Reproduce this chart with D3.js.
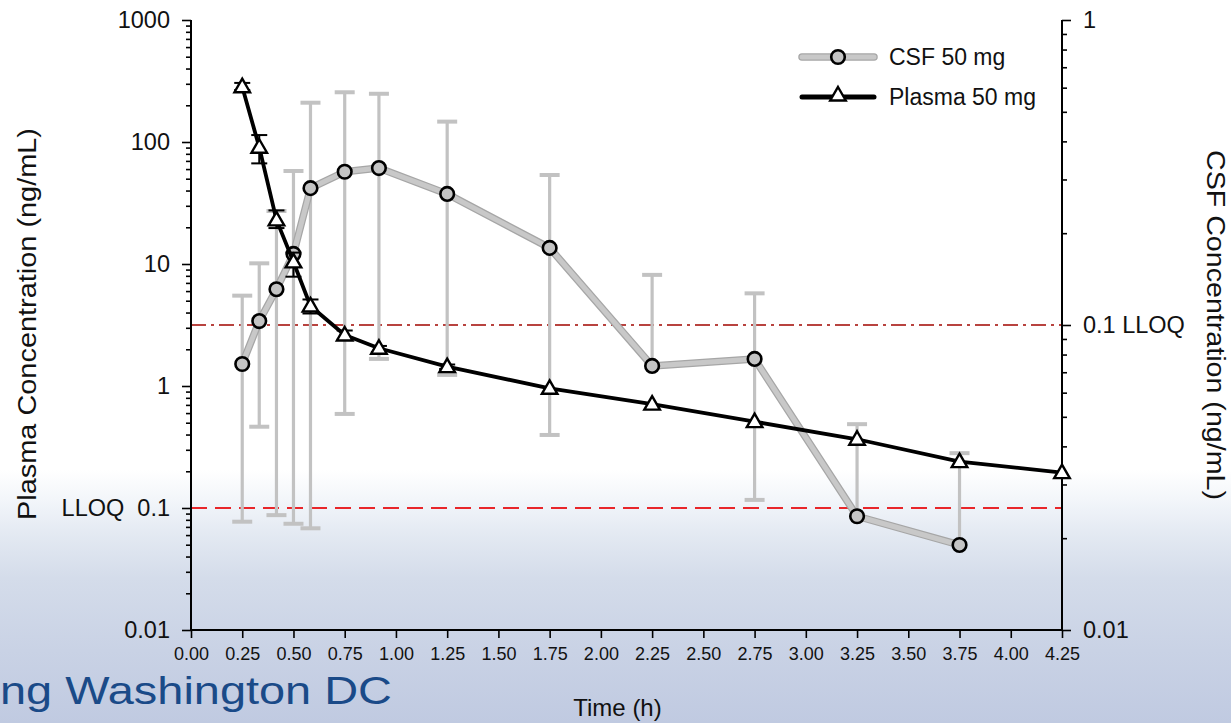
<!DOCTYPE html>
<html><head><meta charset="utf-8">
<script src="https://cdn.jsdelivr.net/npm/d3@7"></script>
<style>html,body{margin:0;padding:0;overflow:hidden;}svg{display:block;font-family:"Liberation Sans",Arial,sans-serif;}</style>
</head><body>
<script>
// ---- data ----
const times = [0.25, 0.333, 0.417, 0.5, 0.583, 0.75, 0.917, 1.25, 1.75, 2.25, 2.75, 3.25, 3.75, 4.25];
const plasma = [284, 90.6, 23.0, 10.4, 4.53, 2.62, 2.04, 1.44, 0.957, 0.71, 0.51, 0.366, 0.24, 0.195];
const plasmaUpper = [305, 114, 27.5, 12.4, 5.12, 2.85, 2.13, 1.5, null, null, null, null, null, null];
const plasmaLower = [267, 66.8, 19.7, 7.87, 3.93, 2.4, 1.9, 1.38, null, null, null, null, null, null];
const csfTimes = [0.25, 0.333, 0.417, 0.5, 0.583, 0.75, 0.917, 1.25, 1.75, 2.25, 2.75, 3.25, 3.75];
const csf = [0.0745, 0.103, 0.131, 0.171, 0.281, 0.318, 0.327, 0.269, 0.179, 0.0734, 0.0774, 0.0236, 0.019];
const csfUpper = [0.1248, 0.1593, 0.2365, 0.3199, 0.5356, 0.5795, 0.573, 0.4643, 0.3103, 0.146, 0.127, 0.0473, 0.038];
const csfLower = [0.02265, 0.0464, 0.0238, 0.0223, 0.02155, 0.0511, 0.0774, 0.0686, 0.0436, null, 0.0267, null, null];
const xTicks = [0, 0.25, 0.5, 0.75, 1, 1.25, 1.5, 1.75, 2, 2.25, 2.5, 2.75, 3, 3.25, 3.5, 3.75, 4, 4.25];
const leftTicks = [0.01, 0.1, 1, 10, 100, 1000];
const leftLabels = ["0.01", "LLOQ  0.1", "1", "10", "100", "1000"];
const rightTicks = [0.01, 0.1, 1];
const rightLabels = ["0.01", "0.1 LLOQ", "1"];
const plasmaLLOQ = 0.1;
const csfLLOQ = 0.1;
const seriesNames = ["CSF 50 mg", "Plasma 50 mg"];

const W = 1231, H = 723;
const svg = d3.select("body").append("svg").attr("width", W).attr("height", H);
const defs = svg.append("defs");
const grad = defs.append("linearGradient").attr("id", "bg").attr("x1", 0).attr("y1", 0).attr("x2", 0).attr("y2", 1);
[[0, "#ffffff"], [0.65, "#ffffff"], [0.69, "#f3f6fa"], [0.74, "#e3e9f2"], [0.8, "#d4dcea"], [0.9, "#c9d2e5"], [1, "#c0cae1"]]
  .forEach(([o, c]) => grad.append("stop").attr("offset", o).attr("stop-color", c));
svg.append("rect").attr("width", W).attr("height", H).attr("fill", "url(#bg)");

const L = 191, R = 1062, T = 20, B = 630;
const x = d3.scaleLinear().domain([0, 4.25]).range([L, R]);
const yL = d3.scaleLog().domain([0.01, 1000]).range([B, T]);
const yR = d3.scaleLog().domain([0.01, 1]).range([B, T]);

// footer text
svg.append("text").attr("x", 0).attr("y", 704).attr("font-size", 38).attr("fill", "#1a4a88")
  .attr("textLength", 392).attr("lengthAdjust", "spacingAndGlyphs").text("ng Washington DC");

// LLOQ lines
svg.append("line").attr("x1", L).attr("x2", R).attr("y1", yR(csfLLOQ)).attr("y2", yR(csfLLOQ))
  .attr("stroke", "#b8433f").attr("stroke-width", 1.8).attr("stroke-dasharray", "15,5,3,5");
svg.append("line").attr("x1", L).attr("x2", R).attr("y1", yL(plasmaLLOQ)).attr("y2", yL(plasmaLLOQ))
  .attr("stroke", "#e8262a").attr("stroke-width", 2).attr("stroke-dasharray", "16,8");

// axes
const minorL = [];
for (let e = -2; e < 3; e++) for (let k = 2; k <= 9; k++) minorL.push(k * Math.pow(10, e));
const minorR = [];
for (let e = -2; e < 0; e++) for (let k = 2; k <= 9; k++) minorR.push(k * Math.pow(10, e));

const gL = svg.append("g").attr("transform", `translate(${L},0)`)
  .call(d3.axisLeft(yL).tickValues(leftTicks).tickFormat((d, i) => leftLabels[i]).tickSize(9).tickPadding(12));
const gLm = svg.append("g").attr("transform", `translate(${L},0)`)
  .call(d3.axisLeft(yL).tickValues(minorL).tickFormat("").tickSize(5));
const gR = svg.append("g").attr("transform", `translate(${R},0)`)
  .call(d3.axisRight(yR).tickValues(rightTicks).tickFormat((d, i) => rightLabels[i]).tickSize(9).tickPadding(12));
const gRm = svg.append("g").attr("transform", `translate(${R},0)`)
  .call(d3.axisRight(yR).tickValues(minorR).tickFormat("").tickSize(5));
const gB = svg.append("g").attr("transform", `translate(0,${B})`)
  .call(d3.axisBottom(x).tickValues(xTicks).tickFormat(d3.format(".2f")).tickSize(8).tickPadding(9));
[gLm, gRm].forEach(g => g.select(".domain").remove());
[gL, gR, gB, gLm, gRm].forEach(g => {
  g.selectAll(".domain").attr("stroke", "#000").attr("stroke-width", 2);
  g.selectAll("line").attr("stroke", "#000").attr("stroke-width", 1.6);
});
gL.select(".domain").attr("d", `M0,${T}V${B}`);
gR.select(".domain").attr("d", `M0,${T}V${B}`);
gB.select(".domain").attr("d", `M${L},0H${R}`);
gL.selectAll("text").attr("font-size", 23.5).attr("fill", "#111").style("white-space", "pre");
gR.selectAll("text").attr("font-size", 23.5).attr("fill", "#111");
gB.selectAll("text").attr("font-size", 18).attr("fill", "#111");

// axis titles
svg.append("text").attr("transform", `translate(36,324) rotate(-90)`).attr("text-anchor", "middle")
  .attr("font-size", 25).attr("fill", "#111").attr("textLength", 392).attr("lengthAdjust", "spacingAndGlyphs")
  .text("Plasma Concentration (ng/mL)");
svg.append("text").attr("transform", `translate(1207,325) rotate(90)`).attr("text-anchor", "middle")
  .attr("font-size", 25).attr("fill", "#111").attr("textLength", 350).attr("lengthAdjust", "spacingAndGlyphs")
  .text("CSF Concentration (ng/mL)");
svg.append("text").attr("x", (L + R) / 2 - 9).attr("y", 716).attr("text-anchor", "middle")
  .attr("font-size", 24).attr("fill", "#111").text("Time (h)");

// CSF error bars
const csfData = csfTimes.map((t, i) => ({ t, v: csf[i], hi: csfUpper[i], lo: csfLower[i] }));
const eb = svg.append("g").attr("stroke", "#c2c2c2").attr("stroke-width", 3.2).attr("fill", "none");
csfData.forEach(d => {
  const cx = x(d.t);
  const top = d.hi != null ? yR(d.hi) : yR(d.v);
  const bot = d.lo != null ? yR(d.lo) : yR(d.v);
  eb.append("line").attr("x1", cx).attr("x2", cx).attr("y1", top).attr("y2", bot);
  if (d.hi != null) eb.append("line").attr("x1", cx - 10).attr("x2", cx + 10).attr("y1", top).attr("y2", top).attr("stroke-width", 4);
  if (d.lo != null) eb.append("line").attr("x1", cx - 10).attr("x2", cx + 10).attr("y1", bot).attr("y2", bot).attr("stroke-width", 4);
});

// CSF line
const csfLine = d3.line().x(d => x(d.t)).y(d => yR(d.v));
svg.append("path").datum(csfData).attr("d", csfLine).attr("fill", "none").attr("stroke", "#a6a6a6").attr("stroke-width", 7.5).attr("stroke-linejoin", "round");
svg.append("path").datum(csfData).attr("d", csfLine).attr("fill", "none").attr("stroke", "#c8c8c8").attr("stroke-width", 5).attr("stroke-linejoin", "round");
svg.append("g").selectAll("circle").data(csfData).join("circle")
  .attr("cx", d => x(d.t)).attr("cy", d => yR(d.v)).attr("r", 6.8)
  .attr("fill", "#c4c4c4").attr("stroke", "#000").attr("stroke-width", 2.6);

// Plasma error bars
const plData = times.map((t, i) => ({ t, v: plasma[i], hi: plasmaUpper[i], lo: plasmaLower[i] }));
const pb = svg.append("g").attr("stroke", "#000").attr("stroke-width", 2).attr("fill", "none");
plData.filter(d => d.hi != null).forEach(d => {
  const cx = x(d.t);
  pb.append("line").attr("x1", cx).attr("x2", cx).attr("y1", yL(d.hi)).attr("y2", yL(d.lo));
  pb.append("line").attr("x1", cx - 8).attr("x2", cx + 8).attr("y1", yL(d.hi)).attr("y2", yL(d.hi));
  pb.append("line").attr("x1", cx - 8).attr("x2", cx + 8).attr("y1", yL(d.lo)).attr("y2", yL(d.lo));
});
const plLine = d3.line().x(d => x(d.t)).y(d => yL(d.v));
svg.append("path").datum(plData).attr("d", plLine).attr("fill", "none").attr("stroke", "#000").attr("stroke-width", 3.8).attr("stroke-linejoin", "round");
const tri = d3.symbol().type(d3.symbolTriangle).size(105);
svg.append("g").selectAll("path").data(plData).join("path")
  .attr("d", tri).attr("transform", d => `translate(${x(d.t)},${yL(d.v) + 1})`)
  .attr("fill", "#fff").attr("stroke", "#000").attr("stroke-width", 2.4);

// legend
const lg = svg.append("g");
const lx1 = 802, lx2 = 874, lmid = 838;
lg.append("line").attr("x1", lx1).attr("x2", lx2).attr("y1", 57).attr("y2", 57).attr("stroke", "#a6a6a6").attr("stroke-width", 7.5).attr("stroke-linecap", "round");
lg.append("line").attr("x1", lx1).attr("x2", lx2).attr("y1", 57).attr("y2", 57).attr("stroke", "#c8c8c8").attr("stroke-width", 5).attr("stroke-linecap", "round");
lg.append("circle").attr("cx", lmid).attr("cy", 57).attr("r", 6.8).attr("fill", "#c4c4c4").attr("stroke", "#000").attr("stroke-width", 2.6);
lg.append("line").attr("x1", lx1).attr("x2", lx2).attr("y1", 97).attr("y2", 97).attr("stroke", "#000").attr("stroke-width", 5).attr("stroke-linecap", "round");
lg.append("path").attr("d", tri).attr("transform", `translate(${lmid},96)`).attr("fill", "#fff").attr("stroke", "#000").attr("stroke-width", 2.4);
lg.selectAll("text.lt").data(seriesNames).join("text").attr("class", "lt")
  .attr("x", 889).attr("y", (d, i) => 57 + i * 40).attr("dy", "0.35em")
  .attr("font-size", 23).attr("fill", "#111").text(d => d);
</script>
</body></html>
